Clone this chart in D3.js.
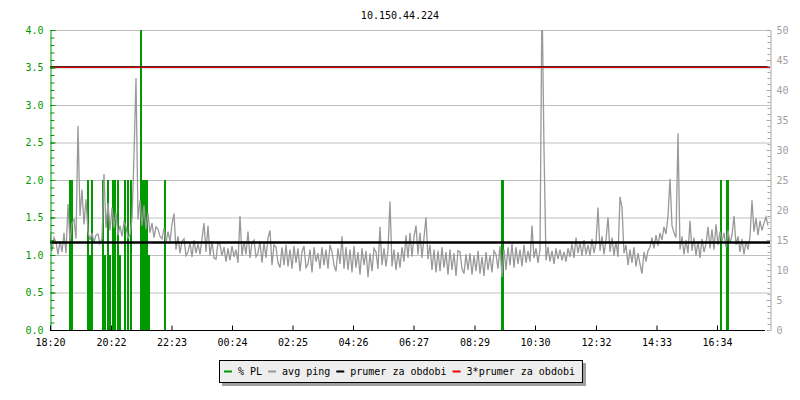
<!DOCTYPE html>
<html>
<head>
<meta charset="utf-8">
<script src="https://cdn.jsdelivr.net/npm/d3@7"></script>
<style>
  body { margin: 0; background: #fff; }
  text { font-family: "DejaVu Sans Mono", monospace; font-size: 10px; }
</style>
</head>
<body>
<div class="chart"></div>
<script>
// chart data
var title = '10.150.44.224';
var startLabel = '18:20';
var stepMinutes = 4;   // one ping sample every 4 minutes
var spanHours = 24;

// avg ping in ms (right axis), one row = one hour
var pingValues = [
  16.0, 13.2, 15.4, 14.6, 12.6, 14.8, 13.0, 16.2, 12.8, 21.0, 14.6, 17.8, 18.4, 15.2, 34.0,
  19.0, 23.4, 17.6, 21.8, 16.4, 15.0, 16.2, 14.6, 15.8, 16.0, 14.4, 15.2, 26.0, 17.0, 21.2,
  16.6, 20.4, 17.0, 19.6, 15.8, 17.4, 15.6, 18.0, 17.2, 15.4, 15.8, 18.6, 29.0, 42.0, 18.4,
  21.6, 17.4, 20.8, 16.8, 19.4, 16.2, 17.8, 15.4, 17.2, 16.8, 15.6, 15.2, 17.0, 14.6, 16.4,
  14.8, 17.6, 19.4, 13.4, 15.6, 12.8, 14.8, 15.2, 12.4, 13.0, 14.6, 12.2, 15.0, 12.8, 14.4,
  12.6, 15.2, 17.8, 13.0, 17.4, 12.4, 14.8, 12.0, 11.8, 14.6, 14.2, 12.4, 13.8, 11.4, 13.6,
  11.6, 14.0, 12.2, 13.4, 11.2, 19.0, 12.4, 14.8, 12.6, 16.4, 12.0, 14.6, 15.0, 12.2, 12.8,
  14.8, 11.2, 14.6, 12.0, 15.4, 16.6, 10.8, 14.2, 13.8, 11.2, 10.4, 13.8, 10.8, 14.2, 10.6,
  13.4, 10.2, 14.0, 11.2, 13.6, 9.8, 13.0, 14.0, 10.4, 11.0, 13.4, 9.6, 13.8, 11.4, 12.8,
  10.2, 13.8, 10.8, 13.4, 10.2, 14.2, 13.0, 10.8, 9.8, 13.6, 11.0, 15.6, 10.2, 13.8, 10.0,
  13.4, 9.6, 14.0, 10.4, 13.0, 9.2, 13.6, 10.8, 13.2, 8.8, 12.8, 9.8, 13.6, 13.0, 10.2,
  17.2, 10.8, 13.6, 10.6, 13.4, 21.4, 10.6, 13.4, 10.0, 13.0, 10.4, 13.8, 11.4, 15.8, 12.0,
  16.2, 12.2, 15.6, 17.4, 12.6, 16.2, 12.0, 15.4, 18.8, 11.8, 14.2, 10.0, 13.4, 9.6, 13.2,
  9.8, 13.8, 10.4, 13.0, 9.2, 13.4, 10.0, 12.8, 9.0, 13.2, 13.0, 10.2, 9.4, 12.6, 10.0,
  12.8, 9.2, 12.4, 9.8, 13.2, 9.4, 12.2, 9.0, 13.0, 10.0, 12.4, 9.6, 13.2, 12.6, 10.2,
  14.0, 8.8, 13.4, 10.0, 13.8, 10.8, 14.4, 10.4, 13.8, 11.0, 13.4, 10.6, 14.2, 11.2, 13.2,
  11.4, 17.4, 12.0, 13.6, 11.2, 13.4, 56.0, 30.2, 11.6, 13.8, 11.4, 13.2, 11.0, 13.6, 11.8,
  13.4, 11.6, 13.0, 11.4, 13.6, 12.2, 14.4, 12.0, 15.4, 12.8, 14.6, 12.4, 15.0, 12.6, 14.2,
  12.4, 15.2, 12.8, 14.6, 20.4, 13.2, 15.6, 12.6, 15.0, 18.8, 13.0, 15.4, 12.4, 14.8, 12.2,
  22.2, 20.4, 12.8, 14.2, 10.8, 13.4, 11.2, 13.8, 10.6, 12.8, 11.0, 9.4, 13.0, 11.4, 13.2,
  13.8, 15.4, 13.6, 15.8, 14.0, 16.2, 15.0, 17.2, 16.0, 19.0, 25.2, 17.4, 16.2, 15.4, 32.8,
  13.4, 15.6, 12.6, 15.0, 12.8, 18.2, 13.2, 15.4, 12.4, 14.8, 12.0, 15.2, 13.0, 14.4, 17.2,
  13.6, 16.8, 13.4, 17.6, 14.2, 16.4, 14.8, 16.2, 13.8, 16.6, 14.4, 15.8, 19.0, 14.2, 15.6,
  13.0, 15.2, 12.6, 14.8, 13.4, 15.6, 21.6, 16.4, 18.6, 15.8, 18.2, 16.6, 17.8, 18.8, 17.4
];

// packet loss events: minutes after start, % PL (left axis)
var plMinutes = [40, 44, 76, 80, 84, 106, 110, 116, 120, 126, 130, 136, 140, 150, 156, 162,
                 182, 186, 190, 194, 198, 230, 904, 906, 1342, 1354, 1356];
var plValues  = [2, 2, 2, 1, 2, 2, 1, 2, 1, 2, 2, 2, 1, 2, 2, 2,
                 5, 2, 2, 2, 1, 2, 2, 2, 2, 2, 2];

var avgPing = 14.6;

var timeLabels = ['18:20', '20:22', '22:23', '00:24', '02:25', '04:26',
                  '06:27', '08:29', '10:30', '12:32', '14:33', '16:34'];

var legendLabels = ['% PL', 'avg ping', 'prumer za obdobi', '3*prumer za obdobi'];

// layout
var width = 800;
var height = 400;
var plotLeft = 50, plotRight = 770, plotTop = 30, plotBottom = 330;

var green = '#009900';
var grey = '#999999';

var svg = d3.select('.chart')
  .append('svg')
  .attr('width', width)
  .attr('height', height);

function toDate(label) {
  var p = label.split(':');
  var s = startLabel.split(':');
  var d = new Date(2013, 0, 14, +p[0], +p[1]);
  if (+p[0] * 60 + +p[1] < +s[0] * 60 + +s[1]) d = d3.timeDay.offset(d, 1);
  return d;
}

var start = toDate(startLabel);
var end = d3.timeHour.offset(start, spanHours);

var x = d3.scaleTime().domain([start, end]).range([plotLeft, plotRight]);
var yPL = d3.scaleLinear().domain([0, 4]).range([plotBottom, plotTop]);
var yPing = d3.scaleLinear().domain([0, 50]).range([plotBottom, plotTop]);

var ping = pingValues.map(function(v, i) {
  return {t: d3.timeMinute.offset(start, i * stepMinutes), v: v};
});
var pl = plMinutes.map(function(m, i) {
  return {t: d3.timeMinute.offset(start, m), v: plValues[i]};
});

svg.append('defs').append('clipPath')
  .attr('id', 'plot')
  .append('rect')
  .attr('x', plotLeft).attr('y', plotTop)
  .attr('width', plotRight - plotLeft).attr('height', plotBottom - plotTop);

// title
svg.append('text')
  .attr('x', width / 2)
  .attr('y', 19)
  .attr('text-anchor', 'middle')
  .attr('fill', '#000')
  .text(title);

// horizontal grid on the PL scale
svg.append('g')
  .selectAll('line')
  .data(d3.range(0.5, 4.01, 0.5))
  .enter()
  .append('line')
  .attr('x1', plotLeft).attr('x2', plotRight)
  .attr('y1', function(d) { return yPL(d) + 0.5; })
  .attr('y2', function(d) { return yPL(d) + 0.5; })
  .attr('stroke', '#c0c0c0')
  .attr('stroke-width', 1);

var plot = svg.append('g').attr('clip-path', 'url(#plot)');

// % PL bars
plot.selectAll('.pl')
  .data(pl)
  .enter()
  .append('line')
  .attr('class', 'pl')
  .attr('x1', function(d) { return x(d.t); })
  .attr('x2', function(d) { return x(d.t); })
  .attr('y1', yPL(0))
  .attr('y2', function(d) { return yPL(d.v); })
  .attr('stroke', green)
  .attr('stroke-width', 2);

// avg ping
plot.append('path')
  .datum(ping)
  .attr('fill', 'none')
  .attr('stroke', grey)
  .attr('stroke-width', 1.3)
  .attr('d', d3.line()
    .x(function(d) { return x(d.t); })
    .y(function(d) { return yPing(d.v); }));

// average and 3*average
plot.append('line')
  .attr('x1', plotLeft).attr('x2', plotRight)
  .attr('y1', yPing(avgPing)).attr('y2', yPing(avgPing))
  .attr('stroke', '#000')
  .attr('stroke-width', 2.5);

var y3 = Math.round(yPing(avgPing * 3));
plot.append('line')
  .attr('x1', plotLeft).attr('x2', plotRight)
  .attr('y1', y3 - 0.5).attr('y2', y3 - 0.5)
  .attr('stroke', '#552222')
  .attr('stroke-width', 1);
plot.append('line')
  .attr('x1', plotLeft).attr('x2', plotRight)
  .attr('y1', y3 + 0.5).attr('y2', y3 + 0.5)
  .attr('stroke', '#dd0000')
  .attr('stroke-width', 1);

// left axis (% PL)
var minorPL = svg.append('g')
  .attr('transform', 'translate(' + (plotLeft + 0.5) + ',0)')
  .call(d3.axisLeft(yPL).tickValues(d3.range(0, 4.01, 0.1)).tickSize(-4).tickSizeOuter(0).tickFormat(''));
minorPL.select('.domain').remove();
minorPL.selectAll('line').attr('stroke', green);

var leftAxis = svg.append('g')
  .attr('transform', 'translate(' + (plotLeft + 0.5) + ',0)')
  .call(d3.axisLeft(yPL).tickValues(d3.range(0, 4.01, 0.5)).tickSize(-5).tickSizeOuter(0)
    .tickPadding(7).tickFormat(d3.format('.1f')));
leftAxis.select('.domain').attr('stroke', green);
leftAxis.selectAll('line').attr('stroke', green);
leftAxis.selectAll('text')
  .attr('fill', green)
  .style('font-family', '"DejaVu Sans Mono", monospace')
  .style('font-size', '10px');

// right axis (ping)
var minorPing = svg.append('g')
  .attr('transform', 'translate(' + (plotRight + 0.5) + ',0)')
  .call(d3.axisRight(yPing).ticks(50).tickSize(-3).tickSizeOuter(0).tickFormat(''));
minorPing.select('.domain').remove();
minorPing.selectAll('line').attr('stroke', '#a8a8a8');

var rightAxis = svg.append('g')
  .attr('transform', 'translate(' + (plotRight + 0.5) + ',0)')
  .call(d3.axisRight(yPing).tickValues(d3.range(0, 51, 5)).tickSize(-4).tickSizeOuter(0)
    .tickPadding(6));
rightAxis.select('.domain').attr('stroke', '#a8a8a8');
rightAxis.selectAll('line').attr('stroke', '#a8a8a8');
rightAxis.selectAll('text')
  .attr('fill', '#a0a0a0')
  .style('font-family', '"DejaVu Sans Mono", monospace')
  .style('font-size', '10px');

// time axis
var timeAxis = svg.append('g')
  .attr('transform', 'translate(0,' + (plotBottom + 0.5) + ')')
  .call(d3.axisBottom(x).tickValues(timeLabels.map(toDate)).tickSize(-5).tickSizeOuter(0)
    .tickPadding(8).tickFormat(d3.timeFormat('%H:%M')));
timeAxis.select('.domain').remove();
timeAxis.selectAll('line').attr('stroke', '#000');
timeAxis.selectAll('text')
  .attr('fill', '#000')
  .style('font-family', '"DejaVu Sans Mono", monospace')
  .style('font-size', '10px');
svg.append('line')
  .attr('x1', plotLeft).attr('x2', plotRight - 5)
  .attr('y1', plotBottom + 0.5).attr('y2', plotBottom + 0.5)
  .attr('stroke', '#000');

// legend
var legendColors = [green, grey, '#000', '#ee0000'];
var legend = svg.append('g');
var shadow = legend.append('rect').attr('fill', '#a0a0a0');
var box = legend.append('rect').attr('fill', '#eeeeee').attr('stroke', '#000');
var cx = 0;
var items = legend.selectAll('.item')
  .data(legendLabels)
  .enter()
  .append('g')
  .attr('class', 'item');
items.each(function(d, i) {
  var g = d3.select(this);
  g.append('line')
    .attr('x1', cx).attr('x2', cx + 8)
    .attr('y1', 371.5).attr('y2', 371.5)
    .attr('stroke', legendColors[i])
    .attr('stroke-width', 2);
  var t = g.append('text')
    .attr('x', cx + 14)
    .attr('y', 375)
    .attr('fill', '#000')
    .text(d);
  cx = cx + 14 + t.node().getComputedTextLength() + 6;
});
var legendW = cx - 6 + 12;
var lx = Math.round(width / 2 - legendW / 2);
items.attr('transform', 'translate(' + (lx + 5) + ',0)');
box.attr('x', lx + 0.5).attr('y', 360.5).attr('width', legendW).attr('height', 22);
shadow.attr('x', lx + 3).attr('y', 363).attr('width', legendW + 1).attr('height', 23);
</script>
</body>
</html>
